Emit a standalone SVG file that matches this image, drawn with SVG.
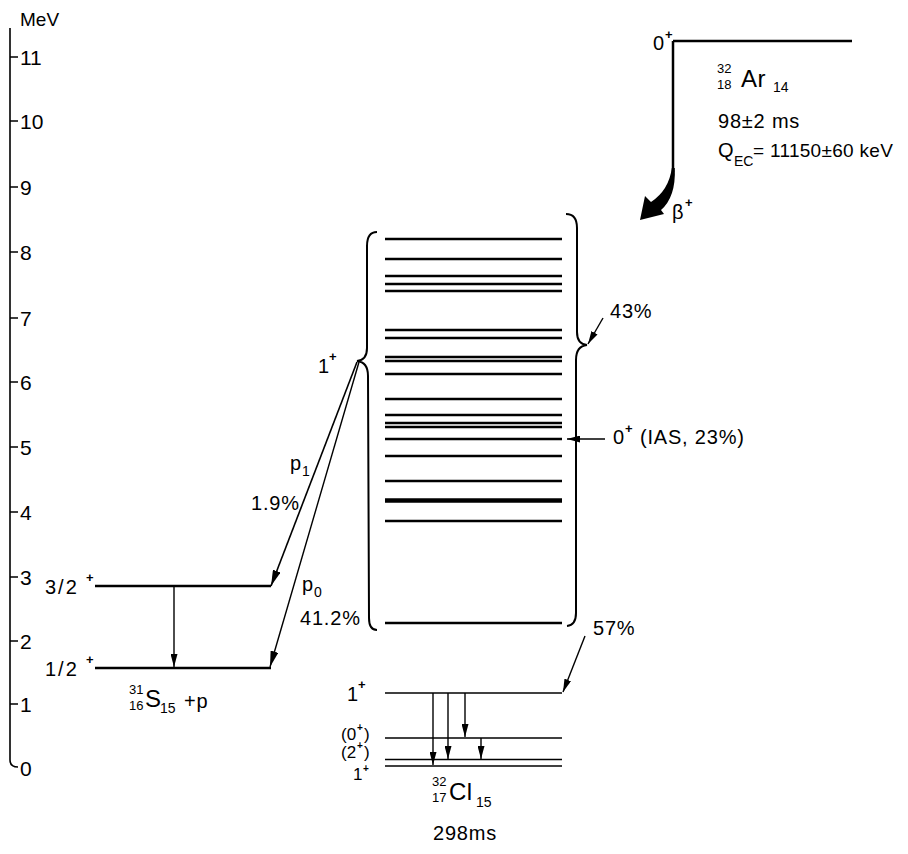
<svg xmlns="http://www.w3.org/2000/svg" width="908" height="854" viewBox="0 0 908 854">
<style>
text{font-family:"Liberation Sans","DejaVu Sans",sans-serif;fill:#000}
.t{font-size:20px;letter-spacing:0.8px}
.ax{font-size:21px}
.s{font-size:14px}
.ps{font-size:13px}
.big{font-size:24px;letter-spacing:0.5px}
.sup{font-size:13px;font-weight:bold}
.lv{stroke:#000;stroke-width:2.5;fill:none}
.lt{stroke:#000;stroke-width:1.6;fill:none}
.ln{stroke:#000;stroke-width:1.4;fill:none}
.br{stroke:#000;stroke-width:2;fill:none}
</style>
<defs>
<marker id="ah" viewBox="0 0 16 8" refX="16" refY="4" markerWidth="16" markerHeight="8" markerUnits="userSpaceOnUse" orient="auto"><path d="M0,0 L16,4 L0,8 Z" fill="#000"/></marker>
<marker id="as" viewBox="0 0 13 7" refX="13" refY="3.5" markerWidth="13" markerHeight="7" markerUnits="userSpaceOnUse" orient="auto"><path d="M0,0 L13,3.5 L0,7 Z" fill="#000"/></marker>
</defs>
<rect width="908" height="854" fill="#fff"/>

<g id="axis">
<path class="lt" d="M10,28 L10,760 Q10,767 18,767"/>
<path class="lt" d="M10,704 H18 M10,641 H18 M10,577 H18 M10,512 H18 M10,447 H18 M10,382 H18 M10,318 H18 M10,252 H18 M10,187 H18 M10,121 H18 M10,57 H18"/>
<text x="20" y="26" style="font-size:19px">MeV</text>
<text class="ax" x="20" y="65">11</text>
<text class="ax" x="20" y="129">10</text>
<text class="ax" x="20" y="195">9</text>
<text class="ax" x="20" y="260">8</text>
<text class="ax" x="20" y="326">7</text>
<text class="ax" x="20" y="390">6</text>
<text class="ax" x="20" y="455">5</text>
<text class="ax" x="20" y="520">4</text>
<text class="ax" x="20" y="585">3</text>
<text class="ax" x="20" y="649">2</text>
<text class="ax" x="20" y="712">1</text>
<text class="ax" x="20" y="776">0</text>
</g>

<g id="ar32">
<path class="lv" d="M673,41 H852"/>
<text class="t" x="653" y="50">0</text><text class="sup" x="665" y="39">+</text>
<text class="ps" x="717" y="73">32</text>
<text class="ps" x="717" y="89">18</text>
<text class="big" x="741" y="87">Ar</text>
<text class="s" x="773" y="92">14</text>
<text class="t" x="718" y="128">98±2  ms</text>
<text class="t" x="718" y="157">Q</text><text class="s" x="734" y="166">EC</text><text x="753" y="157" style="font-size:19px;letter-spacing:0.3px">=  11150±60  keV</text>
</g>

<g id="s31">
<path class="lv" d="M95,586 H271"/>
<path class="lv" d="M95,668 H271"/>
<text class="t" x="45" y="594" style="letter-spacing:2px">3/2</text><text class="sup" x="86" y="582">+</text>
<text class="t" x="45" y="676" style="letter-spacing:2px">1/2</text><text class="sup" x="86" y="664">+</text>
<text class="ps" x="129" y="694">31</text>
<text class="ps" x="129" y="710">16</text>
<text class="big" x="145" y="707">S</text>
<text class="s" x="160" y="713">15</text>
<text class="t" x="184" y="708">+p</text>
</g>

<g id="cl32-high">
<path class="br" d="M377,232 Q367,232 367,246 L367,348 Q367,360 357,361 Q368,362 368,376 L369,618 Q369,630 377,630"/>
<path class="br" d="M566,214 Q577,214 577,228 L577,332 Q577,344 587,345 Q576,346 576,360 L576,613 Q576,625 567,626"/>
<path class="lv" d="M385,239 H562 M385,259 H562 M385,276 H562 M385,284 H562 M385,291 H562 M385,330 H562 M385,338 H562 M385,357 H562 M385,361 H562 M385,374 H562 M385,399 H562 M385,415 H562 M385,423 H562 M385,427 H562 M385,439 H562 M385,456 H562 M385,481 H562 M385,521 H562 M385,623 H562"/>
<path stroke="#000" stroke-width="4.5" d="M385,500.5 H562"/>
<text class="t" x="318" y="373">1</text><text class="sup" x="329" y="361">+</text>
<text class="t" x="610" y="318">43%</text>
<text class="t" x="613" y="444">0</text><text class="sup" x="625" y="433">+</text><text class="t" x="640" y="444">(IAS,  23%)</text>
</g>

<g id="cl32-low">
<path class="ln" d="M385,693 H562"/>
<path class="ln" d="M385,738 H562"/>
<path class="lt" d="M385,759.5 H562"/>
<path class="lt" d="M385,766 H562"/>
<text class="t" x="347" y="701">1</text><text class="sup" x="358" y="689">+</text>
<text x="341" y="740" style="font-size:17px">(0</text><text class="sup" x="357" y="731" style="font-size:10px">+</text><text x="364" y="740" style="font-size:17px">)</text>
<text x="341" y="758" style="font-size:17px">(2</text><text class="sup" x="357" y="749" style="font-size:10px">+</text><text x="364" y="758" style="font-size:17px">)</text>
<text x="353" y="780" style="font-size:17px">1</text><text class="sup" x="363" y="772" style="font-size:10px">+</text>
<text class="ps" x="432" y="786">32</text>
<text class="ps" x="432" y="802">17</text>
<text class="big" x="449" y="800">Cl</text>
<text class="s" x="476" y="807">15</text>
<text class="t" x="433" y="840">298ms</text>
<text class="t" x="593" y="635">57%</text>
</g>

<g id="connectors">
<path class="lt" d="M357,362 L271,586" marker-end="url(#ah)"/>
<path class="ln" d="M359,362 L270,667" marker-end="url(#ah)"/>
<path class="ln" d="M174,586 L174,667" marker-end="url(#as)"/>
<path class="ln" d="M433,693 L433,765" marker-end="url(#as)"/>
<path class="ln" d="M448,693 L448,759" marker-end="url(#as)"/>
<path class="ln" d="M465,693 L465,737" marker-end="url(#as)"/>
<path class="ln" d="M481,738 L481,759" marker-end="url(#as)"/>
<path class="ln" d="M603,318 L588,344" marker-end="url(#as)"/>
<path class="ln" d="M605,439 L567,439" marker-end="url(#as)"/>
<path class="ln" d="M585,636 L563,692" marker-end="url(#as)"/>
<path class="lv" d="M673,41 V172"/>
<path fill="#000" d="M671.8,168 L674.8,168 Q676,197 661,210 L664,214 L640,220 L645,196 L651,202 Q669,190 671.8,168 Z"/>
<text class="t" x="672" y="219">β</text><text class="sup" x="685" y="207">+</text>
<text class="t" x="290" y="470">p</text><text class="s" x="302" y="476">1</text>
<text class="t" x="251" y="510">1.9%</text>
<text class="t" x="302" y="591">p</text><text class="s" x="314" y="597">0</text>
<text class="t" x="300" y="625">41.2%</text>
</g>
</svg>
